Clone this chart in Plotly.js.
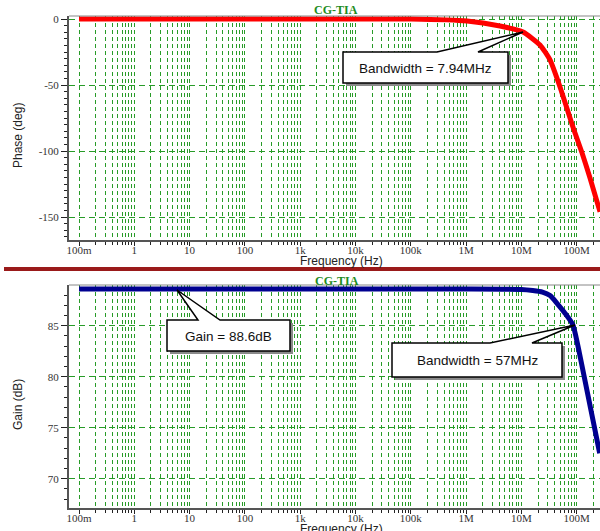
<!DOCTYPE html>
<html>
<head>
<meta charset="utf-8">
<script src="https://cdn.plot.ly/plotly-3.0.1.min.js"></script>
<style>
  html, body { margin: 0; padding: 0; background: #fff; }
  #chart { width: 600px; height: 531px; }
</style>
</head>
<body>
<div id="chart"></div>
<script>
// ---- data ----
const freqTicks = [0.1, 1, 10, 100, 1e3, 1e4, 1e5, 1e6, 1e7, 1e8];
const freqTickText = ['100m', '1', '10', '100', '1k', '10k', '100k', '1M', '10M', '100M'];

const phaseFreq = [0.1, 1e5, 1.04e6, 4.1e6, 1.07e7, 2.17e7, 3.29e7, 4.99e7, 8.57e7, 1.25e8, 1.74e8, 2.64e8];
const phaseDeg  = [0,   0,   -1.5,   -5.3,  -9.8,   -19.7,  -31,    -51.5,  -82,    -101.5, -120.5, -146];

const gainFreq = [0.1,  1e6,  1e7,   1.6e7, 2.4e7, 3.3e7, 4.4e7, 6e7,  8.5e7, 1.13e8, 1.58e8, 2.03e8, 2.6e8];
const gainDb   = [88.6, 88.6, 88.55, 88.45, 88.3,  87.95, 87.2,  86.3, 85.1,  82.2,   78.3,   75.4,   72.5];

const phaseTicks = [0, -50, -100, -150];
const phaseTickText = ['0', '-50', '-100', '-150'];
const gainTicks = [70, 75, 80, 85];
const gainTickText = ['70', '75', '80', '85'];

const chartTitle = 'CG-TIA';
const xTitle = 'Frequency (Hz)';
const phaseTitle = 'Phase (deg)';
const gainTitle = 'Gain (dB)';
const phaseNote = 'Bandwidth = 7.94MHz';
const gainNote = 'Gain = 88.6dB';
const gainBwNote = 'Bandwidth = 57MHz';

// ---- styling ----
const GREEN = 'rgb(40,155,40)';
const tickFont = {family: 'Liberation Serif, serif', size: 11, color: '#333'};
const minorX = [];
for (let d = -1; d <= 8; d++) for (let k = 2; k <= 9; k++) minorX.push(k * Math.pow(10, d));

// pixel -> paper helpers (plot area: x 69..600, y 16..508)
const L = 69, R = 600, T = 16, B = 508;
const PX = p => (p - L) / (R - L);
const PY = p => (B - p) / (B - T);

function xAxis(anchor) {
  return {
    type: 'log', range: [-1.181, 8.421], anchor: anchor,
    tickmode: 'array', tickvals: freqTicks, ticktext: freqTickText,
    ticks: 'outside', ticklen: 4, tickwidth: 1, tickcolor: '#222',
    ticklabelstandoff: -5,
    tickfont: tickFont,
    showline: true, linecolor: '#555', linewidth: 2,
    showgrid: true, gridcolor: GREEN, gridwidth: 1, griddash: '4px,3px',
    zeroline: false, fixedrange: true,
    minor: {tickmode: 'array', tickvals: minorX, ticks: 'outside', ticklen: 3, tickwidth: 1,
            tickcolor: '#222', showgrid: true, gridcolor: GREEN, gridwidth: 1, griddash: '4px,3px'}
  };
}
function yAxis(anchor, range, domain, ticks, text, minorStep) {
  return {
    anchor: anchor, range: range, domain: domain,
    tickmode: 'array', tickvals: ticks, ticktext: text,
    ticks: 'outside', ticklen: 6, tickwidth: 1, tickcolor: '#222',
    tickfont: tickFont,
    showline: true, linecolor: '#555', linewidth: 2,
    showgrid: true, gridcolor: GREEN, gridwidth: 1, griddash: '6px,4px',
    zeroline: false, fixedrange: true,
    minor: {dtick: minorStep, ticks: 'outside', ticklen: 3, tickwidth: 1, tickcolor: '#222', showgrid: false}
  };
}

const traces = [
  {x: phaseFreq, y: phaseDeg, xaxis: 'x', yaxis: 'y', mode: 'lines',
   line: {color: '#ff0000', width: 5, shape: 'spline', smoothing: 0.5}, hoverinfo: 'skip'},
  {x: gainFreq, y: gainDb, xaxis: 'x2', yaxis: 'y2', mode: 'lines',
   line: {color: '#000090', width: 5, shape: 'spline', smoothing: 0.6}, hoverinfo: 'skip'}
];

function callout(box, w1, w2, tip) {
  // box = [x0,y0,x1,y1] pixels, wedge base on top edge between w1..w2, tip = [x,y]
  const [x0, y0, x1, y1] = box;
  const shadow = {type: 'rect', xref: 'paper', yref: 'paper',
    x0: PX(x0 + 3), x1: PX(x1 + 3), y0: PY(y0 + 3), y1: PY(y1 + 3),
    fillcolor: '#8a8a8a', line: {width: 0}, layer: 'above'};
  const pts = [[x0, y0], [w1, y0], tip, [w2, y0], [x1, y0], [x1, y1], [x0, y1]];
  const path = 'M ' + pts.map(p => PX(p[0]) + ',' + PY(p[1])).join(' L ') + ' Z';
  const body = {type: 'path', xref: 'paper', yref: 'paper', path: path,
    fillcolor: '#ffffff', line: {color: '#000', width: 1.5}, layer: 'above'};
  return [shadow, body];
}

const shapes = [
  // top borders of the two plot frames
  {type: 'line', xref: 'x domain', yref: 'y domain', x0: 0, x1: 1, y0: 1, y1: 1, line: {color: '#888', width: 1}},
  {type: 'line', xref: 'x2 domain', yref: 'y2 domain', x0: 0, x1: 1, y0: 1, y1: 1, line: {color: '#888', width: 1}},
  // dark red separator
  {type: 'line', xref: 'paper', yref: 'paper', x0: PX(4), x1: PX(600), y0: PY(269), y1: PY(269),
   line: {color: '#9a1a1a', width: 4}},
  ...callout([343, 52, 508, 83], 437, 478, [523, 32]),
  ...callout([167, 320, 290, 351], 198, 220, [177, 290]),
  ...callout([392, 343, 562, 377], 490, 532, [575, 325])
];

const annFont = {family: 'Liberation Sans, Arial, sans-serif', size: 13.5, color: '#111'};
const titleFont = {family: 'Liberation Serif, serif', size: 12, color: 'rgb(30,140,30)', weight: 'bold'};
const axTitleFont = {family: 'Liberation Sans, Arial, sans-serif', size: 12, color: '#222'};

function ann(text, x, y, font, extra) {
  return Object.assign({text: text, xref: 'paper', yref: 'paper', x: PX(x), y: PY(y),
    xanchor: 'center', yanchor: 'middle', showarrow: false, font: font}, extra || {});
}

const annotations = [
  ann(chartTitle, 336, 10, titleFont),
  ann(chartTitle, 337, 281, titleFont),
  ann(xTitle, 341, 261, axTitleFont),
  ann(xTitle, 341, 529, axTitleFont),
  ann(phaseTitle, 18, 136, axTitleFont, {textangle: -90}),
  ann(gainTitle, 18, 405, axTitleFont, {textangle: -90}),
  ann(phaseNote, 425.5, 68, annFont),
  ann(gainNote, 228.5, 336, annFont),
  ann(gainBwNote, 477, 360, annFont)
];

const layout = {
  width: 600, height: 531,
  margin: {l: L, r: 600 - R, t: T, b: 531 - B, pad: 0},
  paper_bgcolor: '#fff', plot_bgcolor: '#fff',
  showlegend: false,
  xaxis: Object.assign(xAxis('y'), {domain: [0, 1]}),
  yaxis: yAxis('x', [-167.4, 2.3], [PY(240), 1], phaseTicks, phaseTickText, 5),
  xaxis2: Object.assign(xAxis('y2'), {domain: [0, 1]}),
  yaxis2: yAxis('x2', [67.13, 88.99], [0, PY(285)], gainTicks, gainTickText, 1),
  shapes: shapes,
  annotations: annotations
};

Plotly.newPlot('chart', traces, layout, {displayModeBar: false, staticPlot: true});
</script>
</body>
</html>
